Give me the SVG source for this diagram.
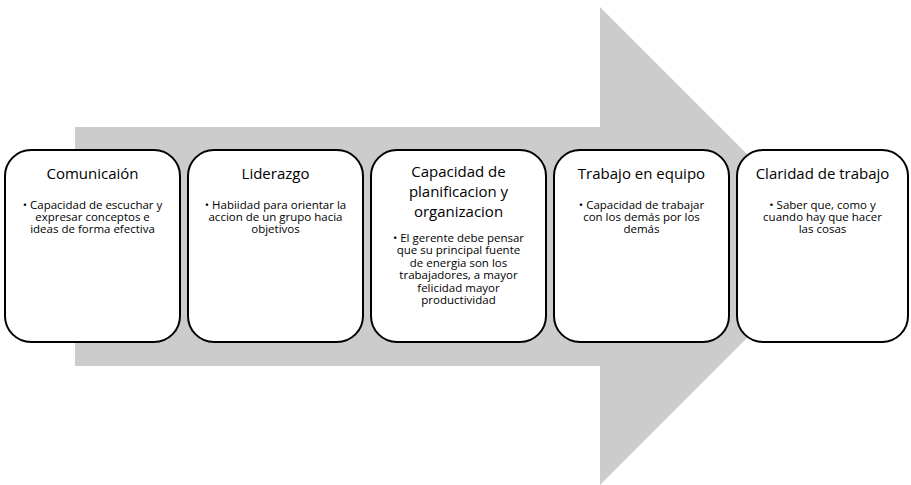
<svg xmlns="http://www.w3.org/2000/svg" width="911" height="485" viewBox="0 0 911 485">
<style>
.box{fill:#fff;stroke:#000;stroke-width:2}
.t{font-family:"Open Sans",Lato,sans-serif;font-size:15px;fill:#000;text-anchor:middle}
.b{font-family:"Open Sans",Lato,sans-serif;font-size:11.5px;fill:#000;text-anchor:middle}
</style>
<rect width="911" height="485" fill="#fff"/>
<g id="arrow">
<polygon points="75,127 600,127 600,7 839,246 600,485 600,366 75,366" fill="#cccccc"/>
</g>
<g id="connectors"></g>
<g id="n1">
<rect class="box" x="5" y="150" width="175" height="192" rx="26"/>
<text class="t" x="92.5" y="179">Comunicaión</text>
<text class="b" x="92.5" y="209">• Capacidad de escuchar y</text>
<text class="b" x="92.5" y="221">expresar conceptos e</text>
<text class="b" x="92.5" y="233">ideas de forma efectiva</text>
</g>
<g id="n2">
<rect class="box" x="188" y="150" width="175" height="192" rx="26"/>
<text class="t" x="275.5" y="179">Liderazgo</text>
<text class="b" x="275.5" y="209">• Habiidad para orientar la</text>
<text class="b" x="275.5" y="221">accion de un grupo hacia</text>
<text class="b" x="275.5" y="233">objetivos</text>
</g>
<g id="n3">
<rect class="box" x="371" y="150" width="175" height="192" rx="26"/>
<text class="t" x="458.5" y="177">Capacidad de</text>
<text class="t" x="458.5" y="197">planificacion y</text>
<text class="t" x="458.5" y="217">organizacion</text>
<text class="b" x="458.5" y="241.5">• El gerente debe pensar</text>
<text class="b" x="458.5" y="254">que su principal fuente</text>
<text class="b" x="458.5" y="266.5">de energia son los</text>
<text class="b" x="458.5" y="279">trabajadores, a mayor</text>
<text class="b" x="458.5" y="291.5">felicidad mayor</text>
<text class="b" x="458.5" y="304">productividad</text>
</g>
<g id="n4">
<rect class="box" x="554" y="150" width="175" height="192" rx="26"/>
<text class="t" x="641.5" y="179">Trabajo en equipo</text>
<text class="b" x="641.5" y="209">• Capacidad de trabajar</text>
<text class="b" x="641.5" y="221">con los demás por los</text>
<text class="b" x="641.5" y="233">demás</text>
</g>
<g id="n5">
<rect class="box" x="737" y="150" width="171" height="192" rx="26"/>
<text class="t" x="822.5" y="179">Claridad de trabajo</text>
<text class="b" x="822.5" y="209">• Saber que, como y</text>
<text class="b" x="822.5" y="221">cuando hay que hacer</text>
<text class="b" x="822.5" y="233">las cosas</text>
</g>
</svg>
